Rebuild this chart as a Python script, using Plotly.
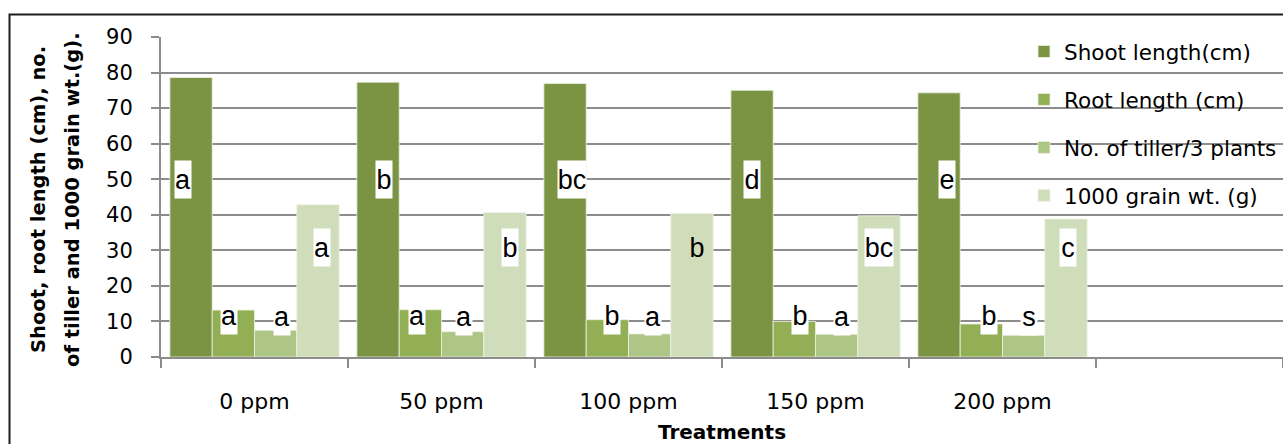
import plotly.graph_objects as go

# Treatment levels and measured responses
treatments = ["0 ppm", "50 ppm", "100 ppm", "150 ppm", "200 ppm"]
shoot_length = [78.6, 77.3, 76.9, 75.0, 74.3]
root_length = [13.2, 13.3, 10.5, 10.0, 9.3]
tiller_count = [7.5, 7.1, 6.5, 6.4, 6.1]
grain_weight = [42.8, 40.6, 40.4, 39.7, 38.8]

# Significance letters for each series
shoot_sig = ["a", "b", "bc", "d", "e"]
root_sig = ["a", "a", "b", "b", "b"]
tiller_sig = ["a", "a", "a", "a", "s"]
grain_sig = ["a", "b", "b", "bc", "c"]

series_names = ["Shoot length(cm)", "Root length (cm)",
                "No. of tiller/3 plants", "1000 grain wt. (g)"]
colors = ["#7b9444", "#93af56", "#aec685", "#d0ddba"]

FONT = "DejaVu Sans"
LABEL_FONT = "Liberation Sans Narrow, Liberation Sans, DejaVu Sans"
W, H = 1283, 444
ML, MR, MT, MB = 161, 0, 37, 87
BARGAP = 0.095

fig = go.Figure()
x_idx = list(range(len(treatments)))
values = [shoot_length, root_length, tiller_count, grain_weight]
for name, vals, col in zip(series_names, values, colors):
    fig.add_trace(go.Bar(
        x=x_idx, y=vals, name=name, legendgroup=name,
        marker=dict(color=col, line=dict(color="rgba(235,242,225,0.8)", width=1)),
    ))

# Letter labels: vertical anchor (data units), per-bar horizontal nudge in px
letters = [shoot_sig, root_sig, tiller_sig, grain_sig]
label_y = [50, 11.7, 11.5, 30.9]
nudges = [[-8, 6, 6.5, 0, 8],
          [-4, -3.5, 5, 6, 8],
          [6, 1, 3.5, 5, 5.5],
          [4, 5, 5.5, 0, 2]]
boxed = [[True] * 5, [True] * 5, [True] * 5, [True, True, False, True, True]]
n = len(series_names)
bw = (1 - BARGAP) / n
for s in range(n):
    off = -(1 - BARGAP) / 2 + bw * (s + 0.5)
    for i, txt in enumerate(letters[s]):
        fig.add_annotation(
            x=i + off, y=label_y[s], xref="x", yref="y", text=txt,
            showarrow=False, xshift=nudges[s][i],
            font=dict(family=LABEL_FONT, size=27, color="black"),
            bgcolor="white" if boxed[s][i] else "rgba(0,0,0,0)",
            width=16 if len(txt) == 1 else 28, height=37, borderpad=0,
            xanchor="center", yanchor="middle",
        )

plot_w = W - ML - MR
plot_h = H - MT - MB

def px_x(p):
    return (p - ML) / plot_w

def px_y(p):
    return (H - MB - p) / plot_h

# Axis titles
for txt, cx in [("<b>Shoot, root length (cm), no.</b>", 38),
                ("<b>of tiller and 1000 grain wt.(g).</b>", 72)]:
    fig.add_annotation(x=px_x(cx), y=px_y(200), xref="paper", yref="paper",
                       text=txt, textangle=-90, showarrow=False,
                       font=dict(family=FONT, size=19.5, color="black"),
                       xanchor="center", yanchor="middle")
fig.add_annotation(x=px_x(722), y=px_y(432), xref="paper", yref="paper",
                   text="<b>Treatments</b>", showarrow=False,
                   font=dict(family=FONT, size=20, color="black"),
                   xanchor="center", yanchor="middle")

# Chart frame
fig.add_shape(type="rect", xref="paper", yref="paper",
              x0=px_x(9.5), x1=px_x(W + 20), y0=px_y(H + 20), y1=px_y(14.5),
              line=dict(color="#1c1c1c", width=2), fillcolor="rgba(0,0,0,0)")

grid = "#8c8c8c"
fig.update_layout(
    width=W, height=H,
    margin=dict(l=ML, r=MR, t=MT, b=MB, pad=0),
    paper_bgcolor="white", plot_bgcolor="white",
    barmode="group", bargap=BARGAP, bargroupgap=0,
    font=dict(family=FONT, color="black"),
    showlegend=True,
    legend=dict(x=px_x(1024), y=px_y(31), xanchor="left", yanchor="top",
                bgcolor="rgba(0,0,0,0)", traceorder="grouped",
                tracegroupgap=17, font=dict(family=FONT, size=21.5),
                itemclick=False),
    xaxis=dict(range=[-0.5, 5.5], tickvals=x_idx, ticktext=treatments,
               ticks="", ticklabelstandoff=24,
               tickfont=dict(family=FONT, size=22, color="black"),
               showgrid=False, zeroline=False,
               showline=True, linecolor=grid, linewidth=2,
               minor=dict(tick0=-0.5, dtick=1, ticks="outside", ticklen=9,
                          tickcolor=grid, tickwidth=2, showgrid=False)),
    yaxis=dict(range=[0, 90], dtick=10, ticks="outside", ticklen=8,
               tickcolor=grid, tickwidth=2, ticklabelstandoff=14,
               tickfont=dict(family=FONT, size=21, color="black"),
               showgrid=True, gridcolor=grid, gridwidth=2,
               zeroline=False, showline=True, linecolor=grid, linewidth=2),
)

fig.write_html("out.html")
